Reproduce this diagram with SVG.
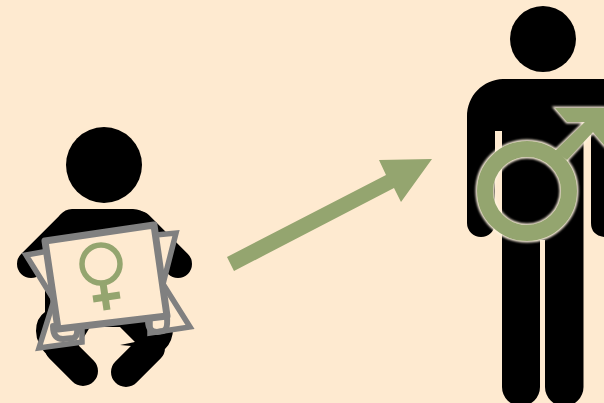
<svg xmlns="http://www.w3.org/2000/svg" width="604" height="403" viewBox="0 0 604 403">
<defs>
<filter id="soft" x="-10%" y="-10%" width="120%" height="120%"><feGaussianBlur stdDeviation="0.8"/></filter>
</defs>
<style>
.g{fill:#feead0;stroke:#808080;stroke-linejoin:miter}
.t{fill:none;stroke:#808080;stroke-linejoin:round;stroke-linecap:round}
.o{fill:none;stroke:#94a56f}
.h{fill:none;stroke:#fff3df}
.b{fill:none;stroke:#000;stroke-linecap:round}
</style>
<rect width="604" height="403" fill="#feead0"/>
<g id="baby">
<circle cx="104" cy="165" r="38"/>
<path d="M72 209H133Q141 209 147 215L165 240V300L173 325Q174 340 165 349L120 345L135 342L120 327H90L78 347L50 358Q36 345 36 331Q36 318 45 312V240L60 215Q65 209 72 209Z"/>
<path class="b" stroke-width="28" d="M31 264L70 225M178 264L139 225"/>
<path class="b" stroke-width="30" d="M60 348L83 371M126 372L150 348"/>
</g>
<g id="sheet">
<path class="g" stroke-width="5.5" d="M60 249L26 255L54 300L39 348L82 342V300Z"/>
<path class="g" stroke-width="5.5" d="M145 236L176 233L163 284L190 327L150 333V290Z"/>
<path class="t" stroke-width="6" d="M53 326Q53 339 63 339L73 338Q78 337 77 328"/>
<path class="t" stroke-width="6" d="M148 320Q148 332 157 332L163 331Q168 330 167 317"/>
<path class="g" stroke-width="7" style="stroke-linejoin:round" d="M45 241L154 225L167 316L58 329Z"/>
<circle class="o" cx="101" cy="264" r="19" stroke-width="5.5"/>
<path class="o" stroke-width="7" d="M103 283L107 310M93 299L120 295"/>
</g>
<g id="man">
<circle cx="543" cy="39" r="33"/>
<path d="M503 79H604V237Q591 235 591 223V135H583.500V387A19 19 0 0 1 545 387V240H540V387A19 19 0 0 1 502 387V131H495V223A14 14 0 0 1 467 223V117C467 95 483 80 503 79Z"/>
</g>
<g id="mars">
<g filter="url(#soft)">
<circle class="h" cx="527" cy="191" r="42" stroke-width="19"/>
<path class="h" stroke-width="3" fill="#fff3df" d="M555 108H604V145L593 132L567 160L555 151L585 122H567Z"/>
</g>
<circle class="o" cx="527" cy="191" r="42" stroke-width="16"/>
<path fill="#94a56f" d="M555 108H604V145L593 132L567 160L555 151L585 122H567Z"/>
</g>
<g id="connectors">
<path fill="#94a56f" d="M227 257L386 175L379 160L432 159L401 202L394 188L234 271Z"/>
</g>
</svg>
